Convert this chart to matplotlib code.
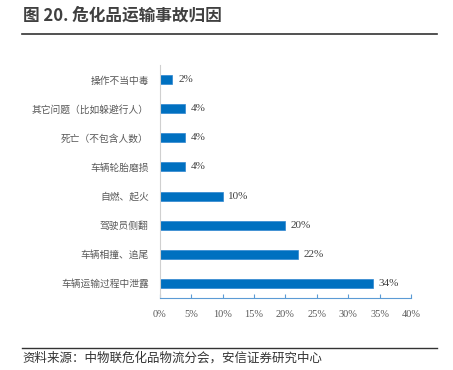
import matplotlib
matplotlib.use("Agg")
import matplotlib.pyplot as plt
from matplotlib.ticker import FuncFormatter

plt.rcParams["font.family"] = ["Noto Sans CJK SC", "DejaVu Sans"]

# data, top to bottom as drawn
causes = ["操作不当中毒", "其它问题（比如躲避行人）", "死亡（不包含人数）", "车辆轮胎磨损",
          "自燃、起火", "驾驶员侧翻", "车辆相撞、追尾", "车辆运输过程中泄露"]
shares = [2, 4, 4, 4, 10, 20, 22, 34]
xticks = [0, 5, 10, 15, 20, 25, 30, 35, 40]

BAR = "#0070C0"
serif = ["Liberation Serif", "DejaVu Serif"]

fig = plt.figure(figsize=(4.53, 3.70), dpi=100)
ax = fig.add_axes([0.353, 0.195, 0.554, 0.629])

ypos = list(range(len(causes)))[::-1]
ax.barh(ypos, shares, height=0.31, color=BAR, edgecolor="#2E86D0", linewidth=0.5)
for y, v in zip(ypos, shares):
    ax.text(v + 0.9, y, f"{v}%", va="center", ha="left", fontsize=8,
            family=serif, color="#404040")

ax.set_xlim(0, 40)
ax.set_ylim(-0.5, 7.5)
ax.set_xticks(xticks)
ax.xaxis.set_major_formatter(FuncFormatter(lambda v, p: f"{v:.0f}%"))
ax.set_yticks(ypos)
ax.set_yticklabels(causes, fontsize=7, color="#595959", fontweight="light")
for lb in ax.get_xticklabels():
    lb.set_family(serif)
    lb.set_fontsize(7.5)
    lb.set_color("#595959")

ax.tick_params(axis="y", length=0, pad=8)
ax.tick_params(axis="x", direction="in", length=3, color="#5B9BD5", pad=9)
for s in ("top", "right"):
    ax.spines[s].set_visible(False)
ax.spines["left"].set_color("#D0D0D0")
ax.spines["bottom"].set_color("#5B9BD5")

# header and footer
fig.text(0.05, 0.958, "图 20. 危化品运输事故归因", fontsize=12, fontweight="bold",
         color="#404040", va="center")
fig.add_artist(plt.Line2D([0.049, 0.965], [0.908, 0.908], color="#333333", lw=1.2))
fig.add_artist(plt.Line2D([0.049, 0.965], [0.059, 0.059], color="#333333", lw=1.0))
fig.text(0.05, 0.031, "资料来源：中物联危化品物流分会，安信证券研究中心", fontsize=9,
         style="italic", color="#333333", va="center")

fig.savefig("out.png", dpi=100)
